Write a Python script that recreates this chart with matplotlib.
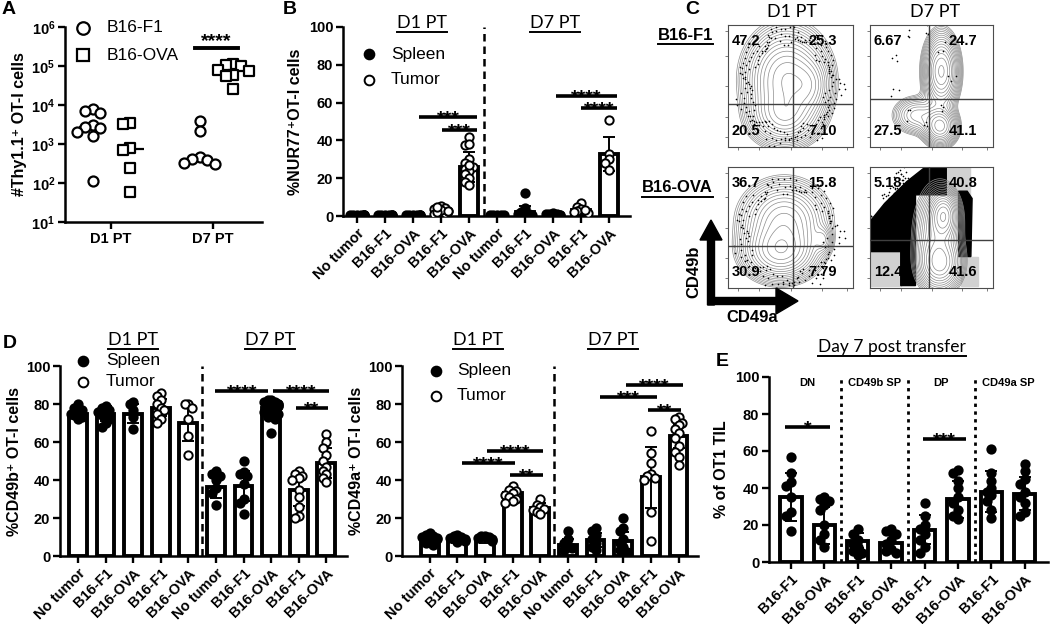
import numpy as np
import matplotlib

matplotlib.use("Agg")

import matplotlib.pyplot as plt  # noqa: E402
from matplotlib.patches import FancyArrow, FancyBboxPatch, Polygon, Rectangle  # noqa: E402
from matplotlib.ticker import NullLocator  # noqa: E402

plt.rcParams["font.family"] = ["Liberation Sans", "DejaVu Sans"]
plt.rcParams["font.weight"] = "bold"
plt.rcParams["mathtext.fontset"] = "custom"
plt.rcParams["mathtext.rm"] = "Liberation Sans"
plt.rcParams["mathtext.bf"] = "Liberation Sans:bold"
plt.rcParams["mathtext.it"] = "Liberation Sans:italic"

W, H = 1050, 624
HEAD = ["Lato", "DejaVu Sans"]  # calibri-ish headers
SUP = "\u207a"  # superscript plus

# ---------------- data ----------------
# A: number of Thy1.1+ OT-I cells in tumor
a_days = ["D1 PT", "D7 PT"]
a_f1_d1 = [8000, 7000, 6200, 3000, 2800, 2600, 2000, 1600, 110]
a_ova_d1 = [3500, 3200, 800, 700, 240, 60]
a_f1_d7 = [4000, 2200, 470, 420, 380, 330, 300]
a_ova_d7 = [115000, 105000, 100000, 80000, 75000, 60000, 55000, 25000]

# shared categories for B and D
bd_labels = ["No tumor", "B16-F1", "B16-OVA", "B16-F1", "B16-OVA"] * 2
bd_filled = [True, True, True, False, False] * 2  # spleen = filled, tumor = open

# B: %NUR77+
b_mean = [0.5, 0.5, 0.5, 3.0, 26.0, 0.5, 2.0, 1.0, 3.0, 33.0]
b_sd = [0.2, 0.2, 0.2, 1.5, 8.0, 0.2, 3.5, 0.5, 1.5, 9.0]
b_points = [
    [0.3, 0.5, 0.6, 0.4, 0.5, 0.7, 0.3, 0.5],
    [0.4, 0.6, 0.5, 0.3, 0.5, 0.7, 0.4],
    [0.5, 0.4, 0.6, 0.5, 0.3, 0.6, 0.5],
    [1.5, 2.5, 3.5, 5.5, 4.0, 1.0, 3.0, 2.0, 2.5, 4.5],
    [42, 37.6, 38, 30, 28, 26, 25, 24, 22, 20, 18, 16.5, 27],
    [0.3, 0.5, 0.6, 0.4, 0.7],
    [12.3, 4.0, 2.0, 1.0, 0.8, 0.5, 1.5],
    [0.5, 1.0, 1.5, 0.8, 0.3, 1.2],
    [6.8, 5.0, 3.5, 2.5, 2.0, 1.5, 3.0],
    [50.8, 33, 30, 28, 24.3],
]
b_sig = [(2.2, 4.3, 52.5, "***"), (3.05, 4.3, 45.5, "***"),
         (7.1, 9.3, 63.5, "****"), (8.0, 9.3, 57, "****")]

# D left: %CD49b+
d1_mean = [75, 75, 75, 78, 70, 36.5, 37, 78, 35, 49]
d1_sd = [3, 4, 5, 4.5, 9.5, 6, 8, 4, 8.5, 8]
d1_points = [
    [80, 77, 76, 74, 73, 72, 78, 75],
    [79, 78, 77, 75, 74, 72, 70, 68, 76],
    [81, 80, 77, 73, 67],
    [86, 84, 82, 80, 78, 77, 75, 72, 70],
    [80, 80, 78, 72, 63, 53],
    [45, 43, 42, 40, 36, 33, 27],
    [50, 44, 43, 42, 38, 30, 28, 22],
    [82, 82, 81, 81, 80, 80, 79, 79, 78, 78, 77, 76, 75, 74, 73, 72, 65],
    [45, 43, 42, 41, 40, 35, 31, 26, 21, 20],
    [64, 60, 57, 53, 50, 47, 45, 43, 41, 39],
]
d1_sig = [(4.97, 6.9, 87, "****"), (7.07, 9.1, 87, "****"), (7.9, 9.06, 78, "**")]

# D right: %CD49a+
d2_mean = [8, 8.5, 8.5, 33, 25.5, 6, 8.5, 8, 41.5, 63]
d2_sd = [2, 1.5, 1.5, 2.5, 2.5, 3, 3.5, 4.5, 16, 6]
d2_points = [
    [12, 11, 10, 9, 8, 7, 6, 9.5, 10.5],
    [11, 10.5, 10, 9.5, 9, 8.5, 8, 7.5],
    [10.5, 10.5, 10, 9.5, 9, 8.5, 8],
    [37, 35, 34, 33, 32, 31, 30, 29, 28],
    [30, 27, 26, 25, 24, 23, 22],
    [13, 9, 7, 5, 4, 3],
    [15, 13, 11, 9, 7, 5, 3],
    [20, 15, 13, 9, 7, 5, 3, 2],
    [66, 54, 49, 43, 42, 41, 40, 23, 8],
    [73, 72, 70, 69, 67, 65, 62, 58, 55, 52, 48],
]
d2_sig = [(1.16, 3.08, 48.8, "****"), (2.07, 4.1, 55.4, "****"), (2.9, 4.1, 42.6, "**"),
          (6.16, 8.2, 83.6, "***"), (7.1, 9.15, 90, "****"), (7.9, 9.1, 76.8, "**")]

# E: day 7 TIL subsets
e_labels = ["B16-F1", "B16-OVA"] * 4
e_groups = ["DN", "CD49b SP", "DP", "CD49a SP"]
e_mean = [35, 20, 11.5, 10.5, 17.5, 34, 38, 37]
e_sd = [13, 10, 4, 4, 8, 10, 11, 9]
e_points = [
    [57, 48, 43, 41, 35, 27, 25, 17],
    [35, 34, 33, 31, 28, 20, 15, 12, 8],
    [18, 15, 12, 10, 8, 6, 5, 4],
    [18, 17, 15, 12, 10, 7, 6, 5],
    [32, 25, 20, 18, 15, 12, 8, 5],
    [50, 48, 44, 40, 35, 32, 28, 25, 23],
    [61, 48, 44, 40, 38, 36, 33, 28, 24],
    [53, 49, 45, 42, 38, 35, 32, 27, 25],
]
e_sig = [(-0.18, 1.17, 73, "*"), (3.95, 5.24, 66.5, "***")]

# C: quadrant frequencies (UL, UR, LL, LR)
c_rows = ["B16-F1", "B16-OVA"]
c_cols = ["D1 PT", "D7 PT"]
c_quads = [["47.2", "25.3", "20.5", "7.10"], ["6.67", "24.7", "27.5", "41.1"],
           ["36.7", "15.8", "30.9", "7.79"], ["5.18", "40.8", "12.4", "41.6"]]


# ---------------- helpers ----------------
def px_axes(fig, x0, y0, x1, y1):
    return fig.add_axes([x0 / W, 1 - y1 / H, (x1 - x0) / W, (y1 - y0) / H])


def swarm(vals, tol, step, maxk=2):
    """Deterministic beeswarm offsets: spread points that would overlap."""
    vals = np.asarray(vals, float)
    offs = np.zeros(len(vals))
    placed = []
    cands = [0]
    for k in range(1, maxk + 1):
        cands += [-k, k]
    for i in np.argsort(-vals):
        best = cands[-1] * step
        for c in cands:
            o = c * step
            if all(abs(vals[i] - vals[j]) >= tol or abs(o - offs[j]) >= step * 0.99 for j in placed):
                best = o
                break
        offs[i] = best
        placed.append(i)
    return offs


def style(ax):
    for s in ["top", "right"]:
        ax.spines[s].set_visible(False)
    for s in ["left", "bottom"]:
        ax.spines[s].set_linewidth(1.8)
    ax.tick_params(width=1.7, length=5, labelsize=10.5, pad=2)


def bars(ax, means, sds, points, filled, labels, xlim, step=0.13, tol=3.2):
    x = np.arange(len(means))
    ax.bar(x, means, width=0.64, color="white", edgecolor="black", linewidth=2.8, zorder=2)
    for xi, m, s, pts, f in zip(x, means, sds, points, filled):
        ax.errorbar(xi, m, yerr=s, color="black", capsize=4, elinewidth=1.4, capthick=1.4, zorder=3)
        off = swarm(pts, tol, step)
        ax.scatter(xi + off, pts, s=36, facecolor="black" if f else "white",
                   edgecolor="black", linewidth=1.4, zorder=4)
    ax.set_xlim(*xlim)
    ax.set_ylim(0, 100)
    ax.set_yticks(range(0, 101, 20))
    ax.set_xticks(x)
    ax.set_xticklabels(labels, rotation=45, ha="right", rotation_mode="anchor")
    style(ax)


def sig(ax, items, fs=14, drop=-4.5):
    for x0, x1, y, stars in items:
        ax.plot([x0, x1], [y, y], color="black", lw=2.6, solid_capstyle="butt", zorder=5)
        ax.annotate(stars, xy=((x0 + x1) / 2, y), xytext=(0, drop), textcoords="offset points",
                    ha="center", va="baseline", fontsize=fs, fontweight="bold", zorder=6)


def dots_ring(ax, ring, n):
    cx, cy, rx, ry = ring
    for scale, ph in [(0.93, 0.0), (1.03, 1.3), (1.13, 2.1)]:
        th = np.linspace(0, 2 * np.pi, n, endpoint=False) + ph
        r = scale * (1 + 0.08 * np.sin(7 * th + ph) + 0.06 * np.cos(13 * th))
        ax.scatter(cx + rx * r * np.cos(th), cy + ry * r * np.sin(th), s=1.4, color="black",
                   linewidths=0, zorder=2)


def flow(ax, blobs, qx, qy, quads, ring=None, nring=40, dense=False):
    gx, gy = np.meshgrid(np.linspace(0, 1, 220), np.linspace(0, 1, 220))
    if dense:
        for xy0, w, h in [((0.0, 0.02), 0.25, 0.27), ((0.62, 0.77), 0.19, 0.23), ((0.74, 0.02), 0.14, 0.24)]:
            ax.add_patch(Rectangle(xy0, w, h, color="0.82", zorder=0))
        ax.add_patch(Polygon([(0.25, 0.02), (0.37, 0.02), (0.37, 0.77), (0.62, 0.77), (0.62, 1.0),
                              (0.45, 1.0), (0.3, 0.88), (0.12, 0.7), (0.0, 0.55), (0.0, 0.3), (0.25, 0.3)],
                             closed=True, color="black", zorder=1))
        ax.add_patch(Polygon([(0.72, 0.26), (0.82, 0.26), (0.83, 0.74), (0.79, 0.8), (0.72, 0.8)],
                             closed=True, color="black", zorder=1))
        ax.add_patch(FancyBboxPatch((0.39, 0.03), 0.32, 0.72, boxstyle="round,pad=0,rounding_size=0.12",
                                    facecolor="white", edgecolor="none", zorder=1.5))
        t = np.linspace(0, 1, 80)
        ax.scatter(0.02 + 0.28 * t + 0.05 * np.sin(37 * t), 0.48 + 0.5 * t + 0.06 * np.cos(53 * t),
                   s=1.4, color="black", linewidths=0, zorder=1)
    z = sum(w * np.exp(-(((gx - cx) / sx) ** 2 + ((gy - cy) / sy) ** 2) / 2)
            for cx, cy, sx, sy, w in blobs)
    ax.contour(gx, gy, z, levels=z.max() * np.geomspace(0.04, 0.95, 16),
               colors="0.55", linewidths=0.5, zorder=2)
    if ring is not None:
        dots_ring(ax, ring, nring)
    ax.axvline(qx, color="0.25", lw=1.0, zorder=3)
    ax.axhline(qy, color="0.25", lw=1.0, zorder=3)
    kw = dict(fontsize=10.5, fontweight="bold", transform=ax.transAxes, zorder=4, va="center")
    ax.text(0.03, 0.87, quads[0], ha="left", **kw)
    ax.text(0.87, 0.87, quads[1], ha="right", **kw)
    ax.text(0.03, 0.13, quads[2], ha="left", **kw)
    ax.text(0.87, 0.13, quads[3], ha="right", **kw)
    ax.set_xlim(0, 1)
    ax.set_ylim(0, 1)
    ax.set_xticks([0.08, 0.25, 0.5, 0.75, 0.95])
    ax.set_yticks([0.08, 0.25, 0.5, 0.75, 0.95])
    ax.tick_params(length=2, width=0.6, labelleft=False, labelbottom=False, color="0.4")
    for s in ax.spines.values():
        s.set_linewidth(0.8)
        s.set_color("0.3")


# ---------------- figure ----------------
fig = plt.figure(figsize=(W / 100, H / 100), dpi=100)

# A
axA = px_axes(fig, 65, 27, 262, 222)
a_xpos = [-0.18, 0.19, 0.87, 1.2]
for xc, vals, mk in zip(a_xpos, [a_f1_d1, a_ova_d1, a_f1_d7, a_ova_d7], ["o", "s", "o", "s"]):
    off = swarm(np.log10(vals), 0.2, 0.075, maxk=2)
    axA.scatter(xc + off, vals, marker=mk, s=52, facecolor="white", edgecolor="black", linewidth=1.6, zorder=3)
    axA.hlines(np.median(vals), xc - 0.13, xc + 0.13, color="black", lw=1.6, zorder=2)
axA.set_yscale("log")
axA.set_ylim(10, 1e6)
axA.set_xlim(-0.45, 1.48)
axA.set_yticks([10 ** k for k in range(1, 7)])
axA.set_yticklabels([r"$\mathbf{10^{%d}}$" % k for k in range(1, 7)])
axA.yaxis.set_minor_locator(NullLocator())
axA.set_xticks([0, 1])
axA.set_xticklabels(a_days)
style(axA)
axA.set_ylabel("#Thy1.1" + SUP + " OT-I cells", fontsize=11.5, fontweight="bold", labelpad=3)
axA.plot([0.82, 1.24], [2.9e5, 2.9e5], color="black", lw=2.8)
axA.text(1.03, 3.3e5, "****", ha="center", va="baseline", fontsize=14, fontweight="bold")

# B
axB = px_axes(fig, 343, 27, 630, 216)
bars(axB, b_mean, b_sd, b_points, bd_filled, bd_labels, (-0.5, 9.75), tol=2.5)
axB.axvline(4.55, color="black", ls=(0, (3, 2)), lw=1.8)
axB.set_ylabel("%NUR77" + SUP + "OT-I cells", fontsize=11.5, fontweight="bold", labelpad=4)
sig(axB, b_sig)

# D left / right
axD1 = px_axes(fig, 60, 366, 347, 556)
bars(axD1, d1_mean, d1_sd, d1_points, bd_filled, bd_labels, (-0.65, 9.75))
axD1.axvline(4.5, color="black", ls=(0, (3, 2)), lw=1.8)
axD1.set_ylabel("%CD49b" + SUP + " OT-I cells", fontsize=11.5, fontweight="bold", labelpad=3)
sig(axD1, d1_sig)

axD2 = px_axes(fig, 402, 366, 698, 556)
bars(axD2, d2_mean, d2_sd, d2_points, bd_filled, bd_labels, (-1.0, 9.7))
axD2.axvline(4.5, color="black", ls=(0, (3, 2)), lw=1.8)
axD2.set_ylabel("%CD49a" + SUP + " OT-I cells", fontsize=11.5, fontweight="bold", labelpad=3)
sig(axD2, d2_sig)

# E
axE = px_axes(fig, 769, 377, 1048, 562)
bars(axE, e_mean, e_sd, e_points, [True] * 8, e_labels, (-0.66, 7.7), step=0.14)
for xd in [1.5, 3.5, 5.5]:
    axE.axvline(xd, color="black", ls=(0, (1.2, 1.6)), lw=2.0, ymax=0.99)
for i, g in enumerate(e_groups):
    axE.text(2 * i + 0.5, 97, g, ha="center", va="center", fontsize=8, fontweight="bold")
axE.set_ylabel("% of OT1 TIL", fontsize=11.5, fontweight="bold", labelpad=4)
sig(axE, e_sig)

# C flow plots
c_boxes = [(728, 25, 853, 147), (870, 25, 993, 147), (728, 167, 853, 288), (870, 167, 993, 288)]
c_blobs = [
    [(0.47, 0.56, 0.16, 0.2, 1.0), (0.45, 0.25, 0.14, 0.12, 0.6), (0.66, 0.5, 0.08, 0.12, 0.35)],
    [(0.58, 0.62, 0.07, 0.15, 1.0), (0.57, 0.17, 0.07, 0.08, 0.85), (0.38, 0.26, 0.1, 0.08, 0.3)],
    [(0.42, 0.3, 0.15, 0.12, 1.0), (0.45, 0.56, 0.17, 0.16, 0.8), (0.76, 0.4, 0.04, 0.06, 0.25)],
    [(0.6, 0.6, 0.06, 0.1, 1.0), (0.57, 0.2, 0.09, 0.11, 0.7), (0.55, 0.42, 0.1, 0.22, 0.5)],
]
c_q = [(0.52, 0.35), (0.48, 0.39), (0.52, 0.35), (0.48, 0.40)]
c_ring = [(0.49, 0.5, 0.35, 0.41), (0.42, 0.58, 0.22, 0.38), (0.48, 0.45, 0.36, 0.39), None]
c_nring = [70, 9, 55, 0]
for i, box in enumerate(c_boxes):
    axc = px_axes(fig, *box)
    flow(axc, c_blobs[i], c_q[i][0], c_q[i][1], c_quads[i], ring=c_ring[i], nring=c_nring[i], dense=(i == 3))

# overlay for annotations (pixel coordinates)
ov = fig.add_axes([0, 0, 1, 1])
ov.set_xlim(0, W)
ov.set_ylim(H, 0)
ov.axis("off")

for lab, (lx, ly) in zip("ABCDE", [(9, 10), (290, 9), (692, 10), (10, 343), (722, 362)]):
    ov.text(lx, ly, lab, ha="center", va="center", fontsize=14, fontweight="bold")

# legends
ov.plot([83], [28], "o", ms=9, mfc="white", mec="black", mew=1.6)
ov.plot([83], [55], "s", ms=9, mfc="white", mec="black", mew=1.6)
ov.text(107, 28, "B16-F1", va="center", fontsize=12.5, fontweight="normal")
ov.text(107, 55, "B16-OVA", va="center", fontsize=12.5, fontweight="normal")
for mx, my, tx, gap in [(369, 54, 391, 26), (83, 361, 106, 21), (436, 371, 457, 25)]:
    ov.plot([mx], [my], "o", ms=7, mfc="black", mec="black", mew=1.4)
    ov.plot([mx], [my + gap], "o", ms=7, mfc="white", mec="black", mew=1.4)
    ov.text(tx, my, "Spleen", va="center", fontsize=12.5, fontweight="normal")
    ov.text(tx, my + gap, "Tumor", va="center", fontsize=12.5, fontweight="normal")

# headers
underlined = []
for hx, hy, txt in [(422, 23, "D1 PT"), (555, 23, "D7 PT"), (133, 340, "D1 PT"), (270, 340, "D7 PT"),
                    (478, 340, "D1 PT"), (613, 340, "D7 PT"), (892, 347, "Day 7 post transfer")]:
    underlined.append(ov.text(hx, hy, txt, ha="center", va="center", fontsize=13 if len(txt) < 8 else 12.5,
                              fontweight="normal", family=HEAD))
for hx, txt in zip([792, 935], c_cols):
    ov.text(hx, 12, txt, ha="center", va="center", fontsize=13, fontweight="normal", family=HEAD)
for ry, txt in zip([35, 188], c_rows):
    underlined.append(ov.text(713, ry, txt, ha="right", va="center", fontsize=12, fontweight="bold"))

# CD49b / CD49a arrows
ov.add_patch(FancyArrow(711, 305, 0, -85, width=7, head_width=22, head_length=20,
                        length_includes_head=True, color="black"))
ov.add_patch(FancyArrow(708, 301, 90, 0, width=7, head_width=26, head_length=22,
                        length_includes_head=True, color="black"))
ov.text(694, 272, "CD49b", rotation=90, ha="center", va="center", fontsize=12, fontweight="bold")
ov.text(752, 318, "CD49a", ha="center", va="center", fontsize=12, fontweight="bold")

fig.canvas.draw()
for t in underlined:
    bb = t.get_window_extent()
    ov.plot([bb.x0, bb.x1], [H - bb.y0 + 1, H - bb.y0 + 1], color="black", lw=1.4)

fig.savefig("out.png", dpi=100)
